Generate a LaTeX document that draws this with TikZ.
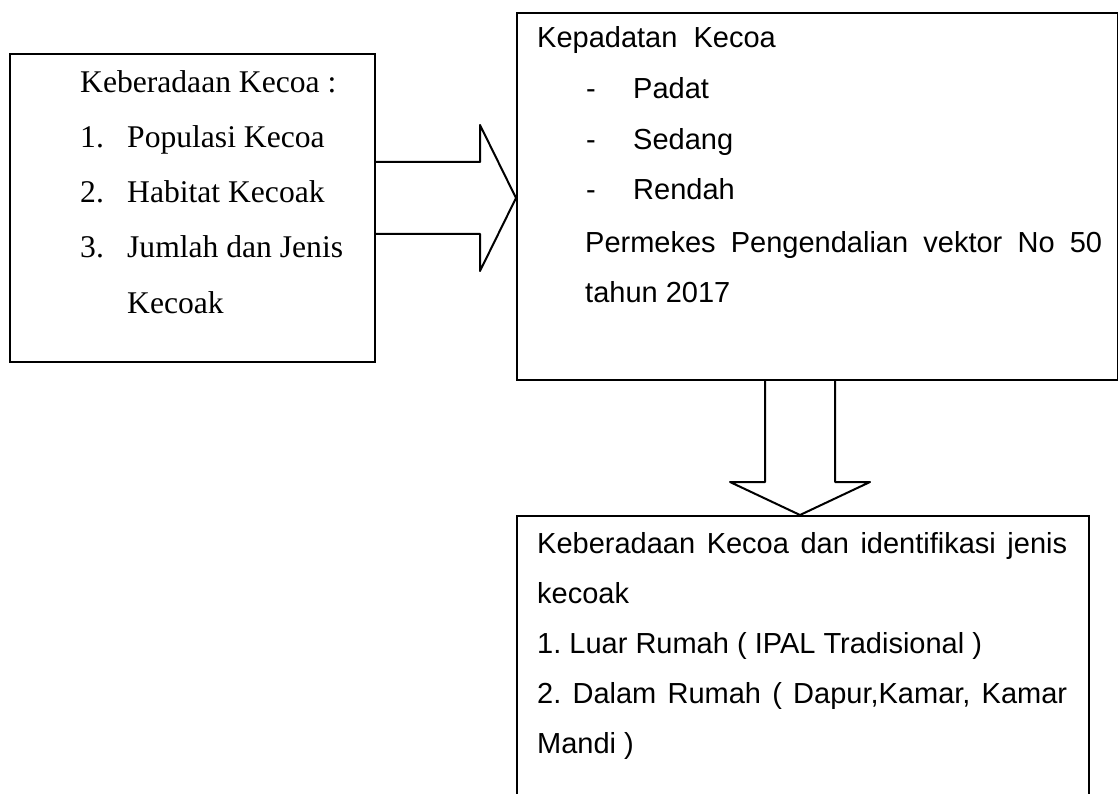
\documentclass[tikz,border=0pt]{standalone}
\usepackage{fontspec}
\setmainfont{Liberation Serif}
\newfontfamily\arialf{Liberation Sans}
\frenchspacing
\begin{document}
\begin{tikzpicture}[x=1pt,y=-1pt,
  box/.style={draw, line width=2pt, inner sep=0pt, anchor=north west},
  ser/.style={anchor=base west, inner sep=0pt, font=\fontsize{31.6}{40}\selectfont\frenchspacing},
  san/.style={anchor=base west, inner sep=0pt, font=\arialf\fontsize{29}{36}\selectfont\frenchspacing},
  blk/.style={draw, line width=2pt, line join=round}]
\useasboundingbox (0,0) rectangle (1118,794);
\clip (0,0) rectangle (1118,794);
% boxes
\node[box, minimum width=365pt, minimum height=308pt] (keb) at (9,53) {};
\node[box, minimum width=601pt, minimum height=367pt] (mid) at (516,12) {};
\node[box, minimum width=572pt, minimum height=330pt] (bot) at (516,515) {};
% left box text
\node[ser] (k0) at (80,93) {Keberadaan Kecoa :};
\node[ser] (k1n) at (80,148) {1.};
\node[ser] (k1) at (127,148) {Populasi Kecoa};
\node[ser] (k2n) at (80,203) {2.};
\node[ser] (k2) at (127,203) {Habitat Kecoak};
\node[ser] (k3n) at (80,258) {3.};
\node[ser] (k3) at (127,258) {Jumlah dan Jenis};
\node[ser] (k4) at (127,313) {Kecoak};
% middle box text
\node[san] (p0) at (537,48) {Kepadatan\ \ Kecoa};
\node[san] (d1) at (586,99) {-};
\node[san] (p1) at (633,99) {Padat};
\node[san] (d2) at (586,150) {-};
\node[san] (p2) at (633,150) {Sedang};
\node[san] (d3) at (586,200) {-};
\node[san] (p3) at (633,200) {Rendah};
\node[san] (p4) at (585,252) {\makebox[517pt][s]{Permekes Pengendalian vektor No 50}};
\node[san] (p5) at (585,302) {tahun 2017};
% bottom box text
\node[san] (b0) at (537,553) {\makebox[530pt][s]{Keberadaan Kecoa dan identifikasi jenis}};
\node[san] (b1) at (537,603) {kecoak};
\node[san] (b2) at (537,653) {1. Luar Rumah ( IPAL Tradisional )};
\node[san] (b3) at (537,703) {\makebox[530pt][s]{2. Dalam Rumah ( Dapur,Kamar, Kamar}};
\node[san] (b4) at (537,753) {Mandi )};
% block arrows
\draw[blk] (keb.east |- 0,162) -- (480,162) -- (480,125) -- (mid.west |- 0,198)
  -- (480,271) -- (480,234) -- (keb.east |- 0,234);
\draw[blk] (765,0 |- mid.south) -- (765,482) -- (730,482) -- (800,0 |- bot.north)
  -- (870,482) -- (835,482) -- (835,0 |- mid.south);
\end{tikzpicture}
\end{document}
